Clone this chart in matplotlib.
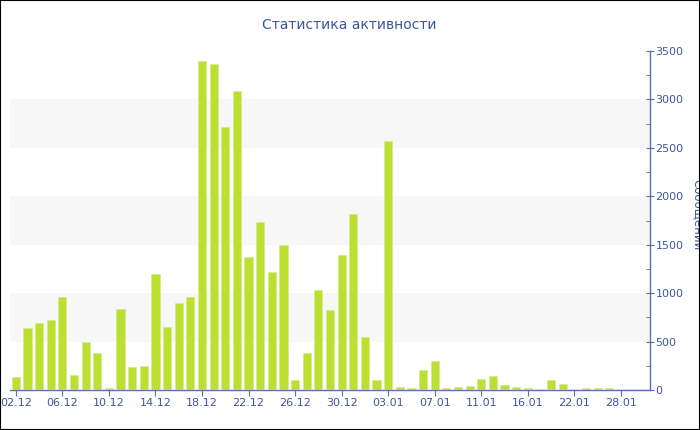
import matplotlib
matplotlib.use("Agg")
import matplotlib.pyplot as plt
from matplotlib.patches import Rectangle
from matplotlib.ticker import MultipleLocator

title = "Статистика активности"
ylabel = "Сообщений"

dates = [
    "02.12", "03.12", "04.12", "05.12", "06.12", "07.12", "08.12", "09.12",
    "10.12", "11.12", "12.12", "13.12", "14.12", "15.12", "16.12", "17.12",
    "18.12", "19.12", "20.12", "21.12", "22.12", "23.12", "24.12", "25.12",
    "26.12", "27.12", "28.12", "29.12", "30.12", "31.12", "01.01", "02.01",
    "03.01", "04.01", "05.01", "06.01", "07.01", "08.01", "09.01", "10.01",
    "11.01", "12.01", "13.01", "14.01", "16.01", "17.01", "19.01", "20.01",
    "22.01", "23.01", "25.01", "26.01", "28.01", "29.01", "30.01",
]
messages = [
    130, 640, 690, 720, 960, 155, 495, 380,
    20, 835, 240, 250, 1195, 650, 900, 965,
    3395, 3370, 2720, 3085, 1370, 1730, 1215, 1500,
    100, 380, 1035, 830, 1395, 1815, 545, 100,
    2575, 30, 20, 205, 295, 20, 30, 40,
    115, 145, 50, 35, 20, 10, 100, 62,
    12, 22, 18, 16, 10, 15, 15,
]
tick_every = 4
y_max = 3500
y_step = 500

bar_color = "#bce032"
text_color = "#3e56a0"
axis_color = "#5b6fae"
band_color = "#f7f7f7"

fig = plt.figure(figsize=(7, 4.3), dpi=100)
ax = fig.add_axes([10 / 700, 40 / 430, 640 / 700, 339 / 430])

x = list(range(len(dates)))
ax.bar(x, messages, width=0.7, color=bar_color, edgecolor="#d6ec8a",
       linewidth=0.6, zorder=3)

# alternating bands
for lo in range(y_step, y_max, 2 * y_step):
    ax.axhspan(lo, lo + y_step, color=band_color, zorder=0, lw=0)

ax.set_xlim(-0.5, len(dates) - 0.5)
ax.set_ylim(0, y_max)

ax.yaxis.tick_right()
ax.yaxis.set_major_locator(MultipleLocator(y_step))
ax.yaxis.set_minor_locator(MultipleLocator(y_step / 2))
ax.tick_params(axis="y", which="major", direction="inout", length=6,
               color=axis_color, labelcolor=text_color, labelsize=8, pad=1)
ax.tick_params(axis="y", which="minor", direction="in", length=3,
               color=axis_color)

ticks = x[::tick_every]
ax.set_xticks(ticks)
ax.set_xticklabels([dates[i] for i in ticks])
ax.tick_params(axis="x", direction="out", length=4, color=axis_color,
               labelcolor=text_color, labelsize=8, pad=2)

for s in ["left", "top"]:
    ax.spines[s].set_visible(False)
for s in ["right", "bottom"]:
    ax.spines[s].set_color(axis_color)
    ax.spines[s].set_linewidth(1)

fig.text(349 / 700, 1 - 25 / 430, title, ha="center", va="center",
         color=text_color, fontsize=10)
fig.text(698 / 700, 1 - 215 / 430, ylabel, ha="center", va="center",
         rotation=-90, color=text_color, fontsize=8.5)

fig.patches.append(Rectangle((0, 0), 1, 1, transform=fig.transFigure,
                             fill=False, edgecolor="black", linewidth=1.5,
                             zorder=10))

fig.savefig("out.png", dpi=100)
